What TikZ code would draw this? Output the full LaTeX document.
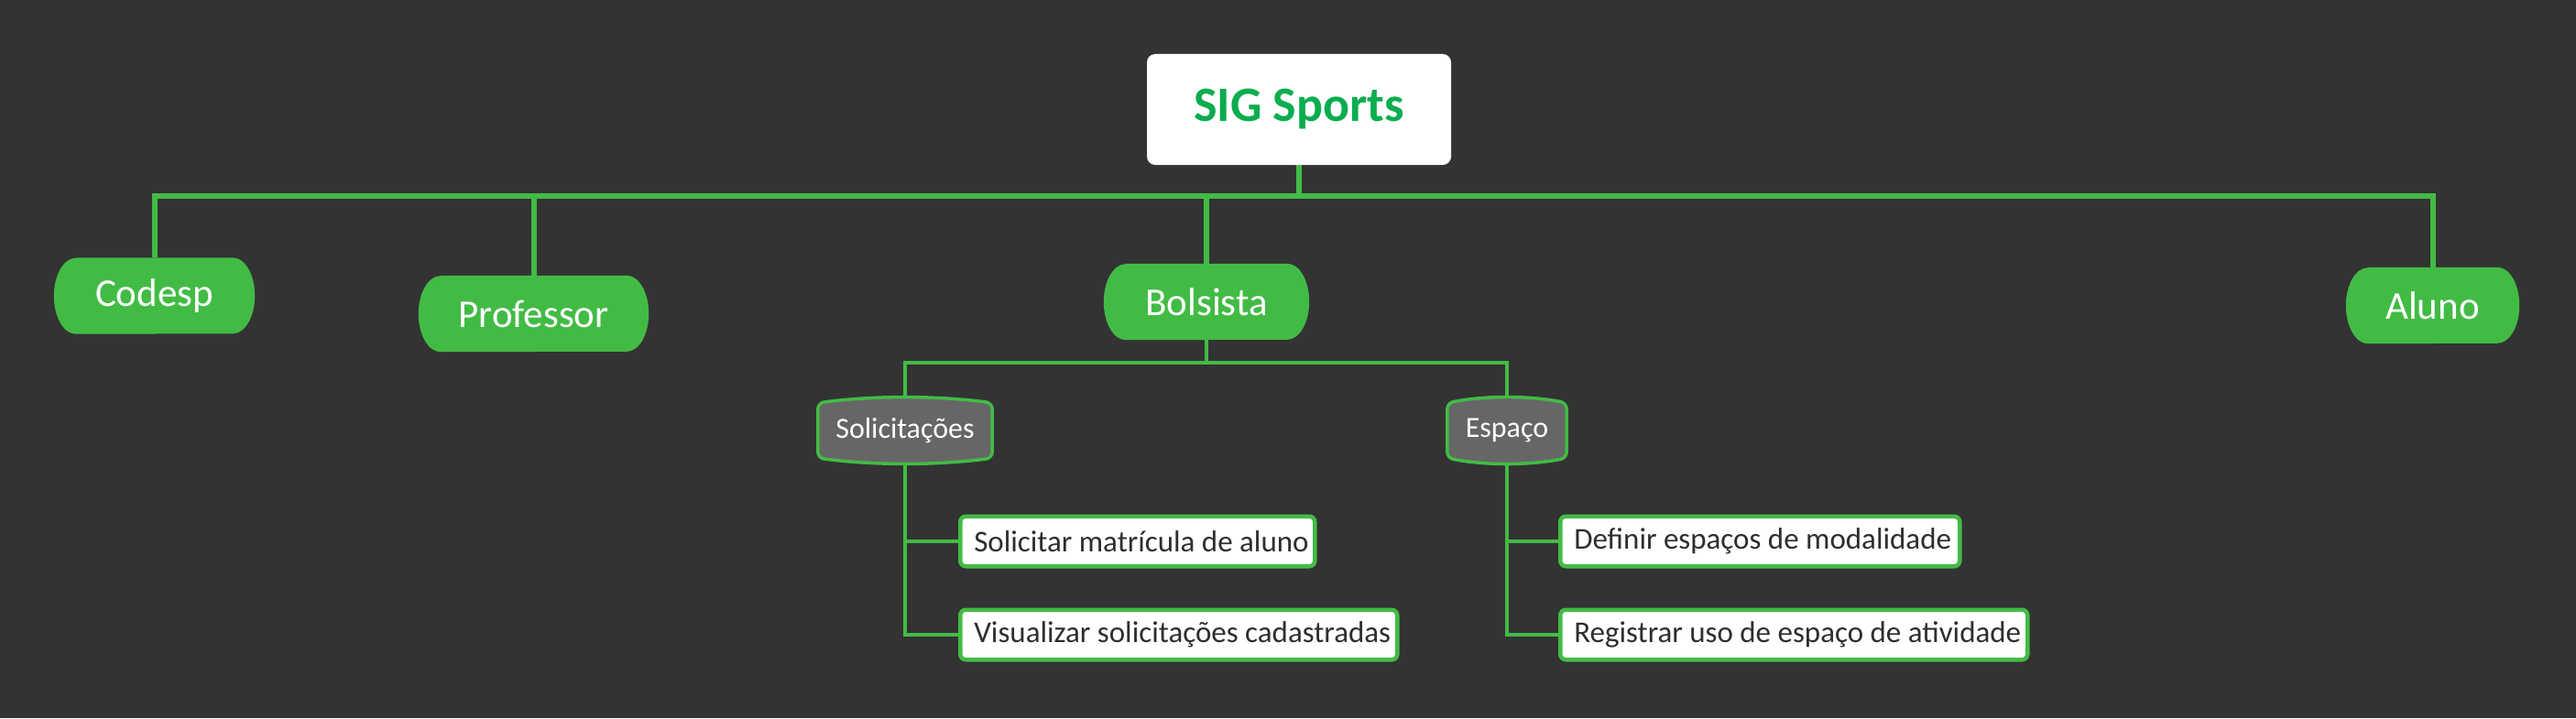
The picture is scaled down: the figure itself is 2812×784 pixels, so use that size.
\documentclass[tikz,border=0pt]{standalone}
\usepackage{fontspec}
\setmainfont{Carlito}
\usetikzlibrary{calc}
\pgfdeclarelayer{bg}\pgfdeclarelayer{mid}\pgfsetlayers{bg,mid,main}
\definecolor{bgc}{HTML}{333333}
\definecolor{grn}{HTML}{42BB45}
\definecolor{rootg}{HTML}{0BAD4F}
\definecolor{grayfill}{HTML}{666666}
\definecolor{leaftxt}{HTML}{2E2E2E}
\newcommand\drawlvltwo[1]{%
 \begin{pgfonlayer}{mid}
 \path[lvltwofill] ($(#1.north west)+(0,6)$) .. controls ($(#1.north west)!0.3333!(#1.north east)+(0,-2)$) and ($(#1.north west)!0.6667!(#1.north east)+(0,-2)$) .. ($(#1.north east)+(0,6)$) -- ($(#1.south east)+(0,-6)$) .. controls ($(#1.south west)!0.6667!(#1.south east)+(0,2)$) and ($(#1.south west)!0.3333!(#1.south east)+(0,2)$) .. ($(#1.south west)+(0,-6)$) -- cycle;
 \end{pgfonlayer}}
\newcommand\drawlvlone[1]{%
 \begin{pgfonlayer}{mid}
 \fill[grn] ($(#1.north west)+(24,0)$) -- ($(#1.north east)+(-24,0)$) arc[start angle=-90, end angle=90, x radius=24, y radius=41.5] -- ($(#1.south west)+(24,0)$) arc[start angle=90, end angle=270, x radius=24, y radius=41.5] -- cycle;
 \end{pgfonlayer}}
\begin{document}
\begin{tikzpicture}[x=1pt,y=-1pt,
 rootbox/.style={rectangle, rounded corners=9pt, fill=white, minimum width=332pt, minimum height=121pt, inner sep=0pt, text=rootg, font=\fontsize{54}{60}\selectfont\bfseries},
 lvlone/.style={rectangle, minimum height=83pt, inner sep=0pt, text=white, font=\fontsize{43}{49}\selectfont},
 lvltwo/.style={rectangle, minimum height=72pt, inner sep=0pt, text=white, font=\fontsize{32}{38}\selectfont},
 lvltwofill/.style={fill=grayfill, draw=grn, line width=3.5pt, rounded corners=7pt},
 leafbox/.style={rectangle, rounded corners=6pt, fill=white, draw=grn, line width=4.5pt, minimum height=54.5pt, inner xsep=15pt, inner ysep=0pt, anchor=west, text=leaftxt, font=\fontsize{33}{39}\selectfont},
 connmain/.style={draw=grn, line width=6pt},
 connsub/.style={draw=grn, line width=4.5pt},
 connleaf/.style={draw=grn, line width=4pt},
]
\useasboundingbox (0,0) rectangle (2812,784);
\begin{pgfonlayer}{bg}
\fill[bgc] (0,0) rectangle (2812,784);
\end{pgfonlayer}

\node[rootbox] (root) at (1418,119.5) {SIG Sports};
\node[lvlone, minimum width=219pt] (codesp) at (168.5,323) {Codesp};
\node[lvlone, minimum width=251pt] (professor) at (582.5,342.5) {Professor};
\node[lvlone, minimum width=224pt] (bolsista) at (1317,329.5) {Bolsista};
\node[lvlone, minimum width=189pt] (aluno) at (2655.5,333.5) {Aluno};
\drawlvlone{codesp}
\drawlvlone{professor}
\drawlvlone{bolsista}
\drawlvlone{aluno}

\node[lvltwo, minimum width=190pt] (sol) at (988,470) {Solicitações};
\node[lvltwo, minimum width=130pt] (esp) at (1645,470) {Espaço};
\drawlvltwo{sol}
\drawlvltwo{esp}

\node[leafbox] (l1) at (1046,591) {\makebox[357pt][l]{Solicitar matrícula de aluno}};
\node[leafbox] (l2) at (1046,693) {\makebox[447pt][l]{Visualizar solicitações cadastradas}};
\node[leafbox] (l3) at (1701,591) {\makebox[406pt][l]{Definir espaços de modalidade}};
\node[leafbox] (l4) at (1701,693) {\makebox[480pt][l]{Registrar uso de espaço de atividade}};

\coordinate (barY) at (0,214);
\coordinate (subY) at (0,396);
\begin{pgfonlayer}{bg}
\draw[connmain] (root.south) -- (root.south |- barY);
\draw[connmain] (codesp.north) -- (codesp.north |- barY) -- (aluno.north |- barY) -- (aluno.north);
\draw[connmain] (professor.north) -- (professor.north |- barY);
\draw[connmain] (bolsista.north) -- (bolsista.north |- barY);
\draw[connsub] (bolsista.south) -- (bolsista.south |- subY);
\draw[connsub] (sol.north) -- (sol.north |- subY) -- (esp.north |- subY) -- (esp.north);
\draw[connleaf] (sol.south) -- (sol.south |- l2.west) -- (l2.west);
\draw[connleaf] (sol.south |- l1.west) -- (l1.west);
\draw[connleaf] (esp.south) -- (esp.south |- l4.west) -- (l4.west);
\draw[connleaf] (esp.south |- l3.west) -- (l3.west);
\end{pgfonlayer}
\end{tikzpicture}
\end{document}
